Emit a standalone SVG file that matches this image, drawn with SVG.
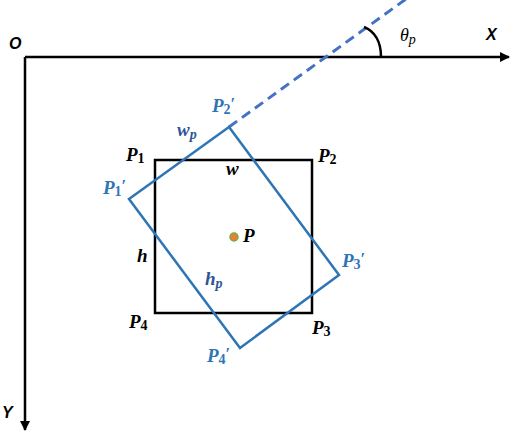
<svg xmlns="http://www.w3.org/2000/svg" width="514" height="434" viewBox="0 0 514 434">
<defs>
<marker id="arr" viewBox="0 0 10 10" refX="9" refY="5" markerWidth="4" markerHeight="4" orient="auto" markerUnits="strokeWidth">
<path d="M0,0 L10,5 L0,10 z" fill="#000"/>
</marker>
<style>
.axis{stroke:#000;stroke-width:2.5;fill:none}
.ax{font-family:"Liberation Sans",Arial,sans-serif;font-weight:bold;font-style:italic;font-size:16px;fill:#000}
.lb{font-family:"Liberation Serif","DejaVu Serif",serif;font-weight:bold;font-style:italic;font-size:19px;fill:#000}
.lbb{font-family:"Liberation Serif","DejaVu Serif",serif;font-weight:bold;font-style:italic;font-size:19px;fill:#2E75B6}
.lbd{font-family:"Liberation Serif","DejaVu Serif",serif;font-weight:bold;font-style:italic;font-size:19px;fill:#2F5597}
.sub{font-size:14px;font-style:normal}
.subi{font-size:14px;font-style:italic}
.pr{font-size:17px;font-style:normal}
.th{font-family:"Liberation Serif","DejaVu Serif",serif;font-style:italic;font-size:18px;fill:#000}
</style>
</defs>
<rect width="514" height="434" fill="#fff"/>
<g id="connectors">
<path class="axis" d="M25,57 H509" marker-end="url(#arr)"/>
<path class="axis" d="M25,57 V430" marker-end="url(#arr)"/>
<path d="M229,127 L406,-1" stroke="#4472C4" stroke-width="3" stroke-dasharray="10 6" fill="none"/>
<path d="M364,27 C374,31 381,41 381,57" stroke="#000" stroke-width="2.5" fill="none"/>
</g>
<g id="axis-labels">
<text class="ax" x="9" y="49">O</text>
<text class="ax" x="486" y="40">X</text>
<text class="ax" x="2" y="418">Y</text>
<text class="th" x="400" y="41">θ<tspan class="subi" dy="3">p</tspan></text>
</g>
<g id="rect-original">
<rect x="155" y="160" width="157" height="153" fill="none" stroke="#000" stroke-width="2.5"/>
<text class="lb" x="126" y="161">P<tspan class="sub" dy="2">1</tspan></text>
<text class="lb" x="318" y="162">P<tspan class="sub" dy="2">2</tspan></text>
<text class="lb" x="312" y="334">P<tspan class="sub" dy="2">3</tspan></text>
<text class="lb" x="129" y="328">P<tspan class="sub" dy="2">4</tspan></text>
<text class="lb" x="226" y="175">w</text>
<text class="lb" x="137" y="262">h</text>
</g>
<g id="rect-rotated">
<polygon points="229,127 129,199 240,348 339,275" fill="none" stroke="#2E75B6" stroke-width="2.5"/>
<text class="lbb" x="103" y="194">P<tspan class="sub" dy="2">1</tspan><tspan class="pr" dy="-5">′</tspan></text>
<text class="lbb" x="212" y="112">P<tspan class="sub" dy="2">2</tspan><tspan class="pr" dy="-5">′</tspan></text>
<text class="lbb" x="342" y="267">P<tspan class="sub" dy="2">3</tspan><tspan class="pr" dy="-5">′</tspan></text>
<text class="lbb" x="207" y="362">P<tspan class="sub" dy="2">4</tspan><tspan class="pr" dy="-5">′</tspan></text>
<text class="lbd" x="177" y="136">w<tspan class="subi" dy="3">p</tspan></text>
<text class="lbd" x="205" y="285">h<tspan class="subi" dy="3">p</tspan></text>
</g>
<g id="center">
<circle cx="234" cy="237" r="4" fill="#ED7D31" stroke="#70AD47" stroke-width="1.5"/>
<text class="lb" x="243" y="242">P</text>
</g>
</svg>
